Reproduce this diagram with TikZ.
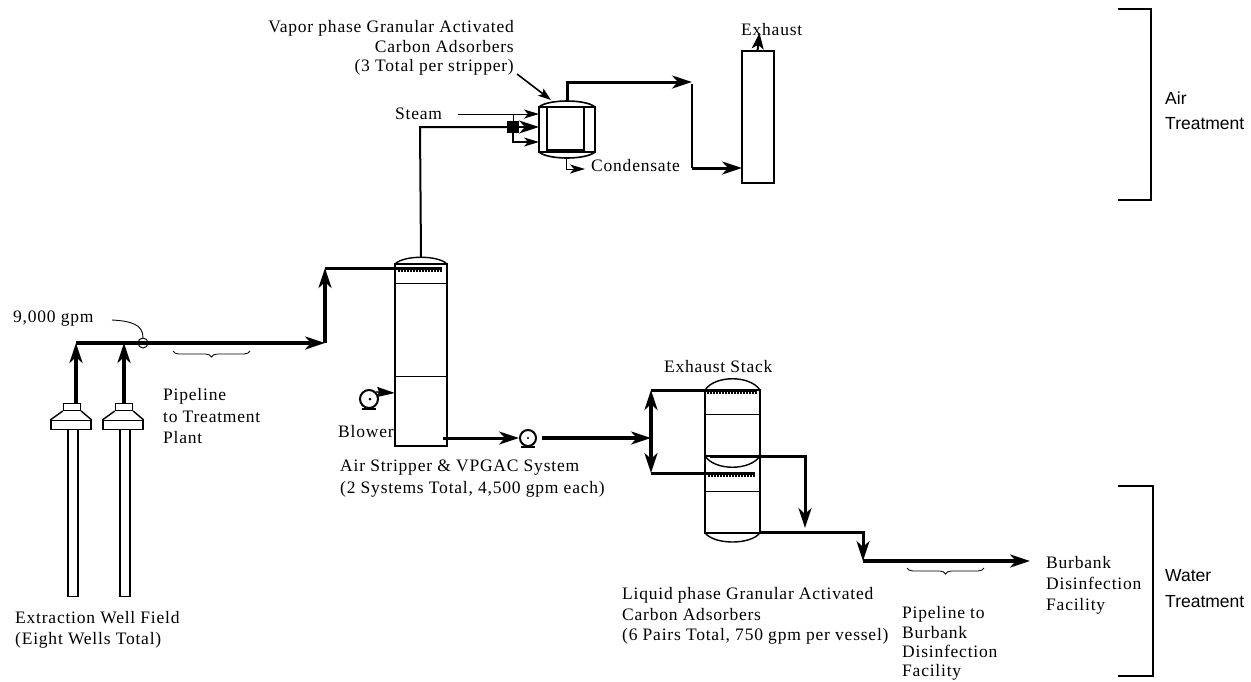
\documentclass[tikz,border=0pt]{standalone}
\usepackage{fontspec}
\setmainfont[LetterSpace=4.5]{Liberation Serif}
\newfontfamily\armfont{Liberation Sans}
\usetikzlibrary{arrows.meta,calc,decorations.pathreplacing}

\tikzset{
    pipe/.style={line width=3.2pt},
    midpipe/.style={line width=3pt},
    thinpipe/.style={line width=2pt},
    flow/.style={-{Stealth[length=20pt,width=13pt,inset=6pt]}},
    smallflow/.style={-{Stealth[length=15pt,width=9pt,inset=4pt]}},
    vessel/.style={draw, line width=2.2pt, minimum width=#1, inner sep=0pt, outer sep=0pt},
    lbl/.style={anchor=base west, inner sep=0pt, font=\fontsize{17.5}{17.5}\selectfont},
    lblr/.style={lbl, anchor=base east},
    armlbl/.style={lbl, font=\armfont\fontsize{17.5}{17.5}\selectfont}
}

\begin{document}
\begin{tikzpicture}[x=1pt, y=-1pt, line join=miter]
        \useasboundingbox (0,0) rectangle (1251,681);

        % extraction wells
        \foreach \name/\wx in {wellA/71, wellB/123} {
            \node[draw, line width=1.4pt, minimum width=10pt, minimum height=167pt, inner sep=0pt, anchor=north] (\name tube) at (\wx+2,429) {};
            \node[draw, line width=1.4pt, minimum width=40pt, minimum height=9pt, inner sep=0pt, anchor=north, fill=white] (\name flange) at (\wx,420) {};
            \node[draw, line width=1.4pt, minimum width=17pt, minimum height=7pt, inner sep=0pt, anchor=south] (\name cap) at (\wx+1,411) {};
            \draw[line width=1.4pt] (\name flange.north west) -- (\name cap.south west);
            \draw[line width=1.4pt] (\name flange.north east) -- (\name cap.south east);
        }

        % feed pipeline
        \coordinate (join_a) at (76,343);
        \coordinate (join_b) at (124,343);
        \coordinate (riser_bot) at (325,343);
        \coordinate (riser_top) at (325,268);
        \draw[pipe, flow] (wellAcap.north -| join_a) -- (join_a);
        \draw[pipe, flow] (wellBcap.north -| join_b) -- (join_b);
        \draw[pipe, flow] (join_a) -- (riser_bot);
        \draw[pipe, flow] (riser_bot) -- (riser_top);

        % flow meter
        \node[draw, circle, line width=1pt, minimum size=10pt, inner sep=0pt] (meter) at (143,343) {};
        \coordinate (meter_lead) at (112,320);
        \draw[line width=0.9pt] (meter_lead) .. controls (132,321) and (143,325) .. (meter.north);

        % air stripper
        \node[vessel=52pt, minimum height=182pt, anchor=north west] (stripper) at (395,264) {};
        \draw[line width=1.4pt] (stripper.north west) .. controls (404,255) and (438,255) .. (stripper.north east);
        \draw[line width=1pt] (395,283) -- (447,283);
        \draw[line width=1pt] (395,376) -- (447,376);
        \draw[midpipe] (riser_top) -- (442,268);
        \draw[line width=2pt, densely dotted] (398,271) -- (442,271);

        % blower
        \node[draw, circle, line width=2pt, minimum size=18pt, inner sep=0pt] (blower) at (369,399) {};
        \draw[line width=2pt] (362,409) -- (376,409);
        \fill (370,399) circle (1.5pt);
        \draw[line width=1.4pt, -{Stealth[length=18pt,width=10pt,inset=2pt]}] (blower.north east) -- (stripper.west |- 0,393);

        % outlet pump
        \node[draw, circle, line width=2pt, minimum size=16pt, inner sep=0pt] (pump) at (528,438) {};
        \draw[line width=2pt] (521,447) -- (535,447);
        \fill (528,438) circle (1.2pt);
        \coordinate (strip_out) at (443,438);
        \draw[midpipe, flow] (strip_out) -- (pump.west);

        % vapor phase adsorber
        \node[vessel=56pt, minimum height=45pt, anchor=north west] (adsorber) at (539,107) {};
        \draw[line width=1.6pt] (adsorber.north west) .. controls (548,99) and (586,99) .. (adsorber.north east);
        \draw[line width=1.6pt] (adsorber.south west) .. controls (548,160) and (586,160) .. (adsorber.south east);
        \draw[line width=1.2pt] (547,108) -- (547,150) -- (584,150) -- (584,108);
        \node[fill=black, minimum size=12pt, inner sep=0pt] (valve) at (513,127) {};
        \coordinate (steam_in) at (458,114);
        \coordinate (steam_t) at (513,114);
        \coordinate (steam_b) at (513,142);
        \draw[thinpipe] (stripper.north |- 0,257) -- (420,127) -- (valve);
        \draw[line width=1pt, smallflow] (steam_in) -- (adsorber.west |- steam_in);
        \draw[thinpipe, flow] (valve) -- (adsorber.west |- valve);
        \draw[line width=1pt] (steam_t) -- (valve);
        \draw[line width=1.2pt, smallflow] (valve) -- (steam_b) -- (adsorber.west |- steam_b);
        \draw[line width=1pt, smallflow] (566,157) -- (566,169) -- (585,169);

        % exhaust stack
        \node[vessel=32pt, minimum height=132pt, anchor=north west] (stack) at (742,51) {};
        \coordinate (duct_top) at (692,82);
        \coordinate (duct_bot) at (692,168);
        \draw[midpipe, flow] (567,102) -- (567,82) -- (duct_top);
        \draw[thinpipe] (duct_top) ++(0,2) -- (duct_bot);
        \draw[midpipe, flow] (duct_bot) -- (stack.west |- duct_bot);
        \draw[thinpipe, -{Stealth[length=16pt,width=12pt,inset=4pt]}] (stack.north) ++(-0.5,0) -- (759.5,33);

        % vapor adsorber pointer
        \coordinate (ads_lead) at (517,74);
        \draw[line width=1.6pt, -{Stealth[length=13pt,width=9pt,inset=3pt]}] (ads_lead) -- (551,100);

        % liquid phase adsorbers
        \node[vessel=55pt, minimum height=66pt, anchor=north west] (lgacA) at (705,390) {};
        \node[vessel=55pt, minimum height=77pt, anchor=north west] (lgacB) at (705,456) {};
        \draw[line width=1.4pt] (lgacA.north west) .. controls (715,375) and (750,375) .. (lgacA.north east);
        \draw[line width=1.4pt] (lgacA.south west) .. controls (715,471) and (750,471) .. (lgacA.south east);
        \draw[line width=1.4pt] (lgacB.south west) .. controls (715,545) and (750,545) .. (lgacB.south east);
        \draw[line width=0.9pt] (705,414) -- (760,414);
        \draw[line width=0.9pt] (705,491) -- (760,491);
        \draw[line width=2pt, densely dotted] (707,393) -- (757,393);
        \draw[line width=2pt, densely dotted] (708,476) -- (755,476);

        % water line
        \coordinate (split) at (651,438);
        \coordinate (split_t) at (651,390);
        \coordinate (split_b) at (651,473);
        \draw[pipe, flow] (pump.east) ++(5,0) -- (split);
        \draw[pipe, {Stealth[length=20pt,width=13pt,inset=6pt]}-{Stealth[length=20pt,width=13pt,inset=6pt]}] (split_t) -- (split_b);
        \draw[midpipe] (split_t) -- (757,390);
        \draw[midpipe] (split_b) -- (755,473);
        \coordinate (dropA) at (805,456);
        \coordinate (dropB) at (863,532);
        \coordinate (burbank) at (1030,561);
        \draw[midpipe, flow] (710,456) -- (dropA) -- (805,528);
        \draw[midpipe, flow] (lgacB.south east) ++(0,-1) -- (dropB) -- (863,561);
        \draw[pipe, flow] (863,561) -- (burbank);

        % braces
        \draw[line width=0.8pt, decorate, decoration={brace, mirror, amplitude=6pt}] (173,351) -- (250,351);
        \draw[line width=0.8pt, decorate, decoration={brace, mirror, amplitude=6pt}] (907,568) -- (984,568);

        % treatment brackets
        \draw[line width=1.2pt] (1118,9) -- (1151,9) -- (1151,200) -- (1118,200);
        \draw[line width=1.2pt] (1118,486) -- (1153,486) -- (1153,676) -- (1118,676);

        % labels
        \node[lbl] (gpm) at (13,322) {9,000 gpm};
        \node[lbl] (pipeA) at (163,400) {Pipeline};
        \node[lbl] (pipeB) at (163,422) {to Treatment};
        \node[lbl] (pipeC) at (163,443) {Plant};
        \node[lblr] (vapA) at (514,32) {Vapor phase Granular Activated};
        \node[lblr] (vapB) at (514,52) {Carbon Adsorbers};
        \node[lblr] (vapC) at (514,71) {(3 Total per stripper)};
        \node[lbl] (steam) at (395,119) {Steam};
        \node[lbl] (cond) at (591,171) {Condensate};
        \node[lbl] (exh) at (741,35) {Exhaust};
        \node[lbl] (blowerlbl) at (338,437) {Blower};
        \node[lbl] (stripA) at (340,471) {Air Stripper \& VPGAC System};
        \node[lbl] (stripB) at (340,493) {(2 Systems Total, 4,500 gpm each)};
        \node[lbl] (stacklbl) at (664,372) {Exhaust Stack};
        \node[lbl] (wellsA) at (15,623) {Extraction Well Field};
        \node[lbl] (wellsB) at (15,644) {(Eight Wells Total)};
        \node[lbl] (liqA) at (622,599) {Liquid phase Granular Activated};
        \node[lbl] (liqB) at (622,620) {Carbon Adsorbers};
        \node[lbl] (liqC) at (622,640) {(6 Pairs Total, 750 gpm per vessel)};
        \node[lbl] (pbA) at (902,618) {Pipeline to};
        \node[lbl] (pbB) at (902,638) {Burbank};
        \node[lbl] (pbC) at (902,657) {Disinfection};
        \node[lbl] (pbD) at (902,676) {Facility};
        \node[lbl] (fbA) at (1046,568) {Burbank};
        \node[lbl] (fbB) at (1046,589) {Disinfection};
        \node[lbl] (fbC) at (1046,610) {Facility};
        \node[armlbl] (airA) at (1165,104) {Air};
        \node[armlbl] (airB) at (1165,129) {Treatment};
        \node[armlbl] (watA) at (1165,581) {Water};
        \node[armlbl] (watB) at (1165,607) {Treatment};
    \end{tikzpicture}
\end{document}
